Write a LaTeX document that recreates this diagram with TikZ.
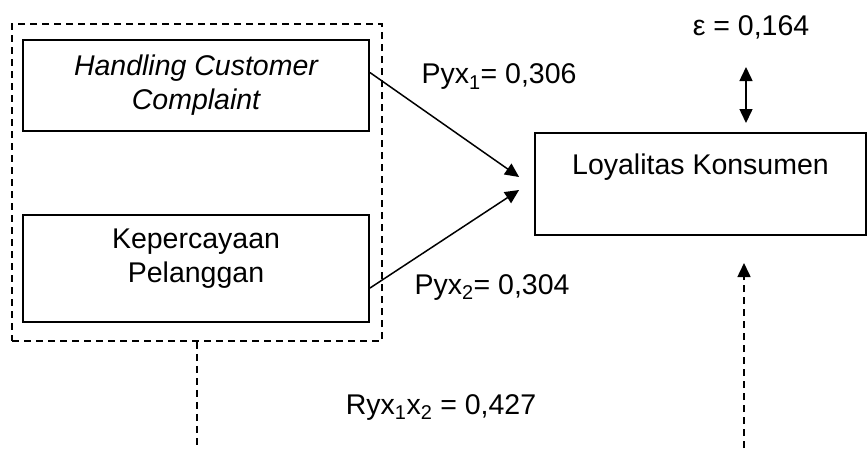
\documentclass[tikz,border=0pt]{standalone}
\usepackage{fontspec}
\setmainfont{Liberation Sans}
\usetikzlibrary{arrows.meta,calc}
\begin{document}
\begin{tikzpicture}[x=1pt,y=-1pt,
  every node/.style={font=\fontsize{28.5}{34}\selectfont, inner sep=0pt},
  boxnode/.style={draw, line width=1.8pt, align=center},
  grpbox/.style={draw, line width=1.6pt, dash pattern=on 7pt off 5pt},
  dashline/.style={line width=1.6pt, dash pattern=on 7pt off 5pt},
  arr/.style={line width=1.5pt, -{Triangle[length=14pt,width=13pt]}},
  dblarr/.style={line width=1.5pt, {Triangle[length=14pt,width=13pt]}-{Triangle[length=14pt,width=13pt]}},
  lbl/.style={anchor=center}]
\useasboundingbox (0,0) rectangle (867,448);
% group dashed box
\node[grpbox, minimum width=370pt, minimum height=317pt] (grp) at (197,182.5) {};
\node[boxnode, minimum width=346pt, minimum height=91pt] (hcc) at (196,85.5) {\itshape Handling Customer\\\itshape Complaint};
\node[boxnode, minimum width=346pt, minimum height=107pt] (kp) at (196,268.5) {Kepercayaan\\Pelanggan\\[-8pt]};
\node[boxnode, minimum width=331pt, minimum height=102pt] (loy) at (700.5,184) {Loyalitas Konsumen\\[-4pt]\strut};
% labels
\node[lbl] (p1) at (499,77) {Pyx\textsubscript{1}= 0,306};
\node[lbl] (p2) at (492,287) {Pyx\textsubscript{2}= 0,304};
\node[lbl] (eps) at (751,27) {ε = 0,164};
\node[lbl] (ryx) at (441,407) {Ryx\textsubscript{1}x\textsubscript{2} = 0,427};
% coordinates
\coordinate (et) at (746,67);
\coordinate (eb) at (746,123);
\coordinate (bl) at (197,448);
\coordinate (br) at (744,448);
\coordinate (brt) at (744,263);
% connectors
\draw[arr] ($(hcc.north east)!0.36!(hcc.south east)$) -- ($(loy.west)+(-15,-7)$);
\draw[arr] ($(kp.north east)!0.68!(kp.south east)$) -- ($(loy.west)+(-15,6)$);
\draw[dblarr] (et) -- (eb);
\draw[dashline] (grp.south) -- (bl);
\draw[dashline, -{Triangle[length=14pt,width=13pt]}] (br) -- (brt);
\end{tikzpicture}
\end{document}
